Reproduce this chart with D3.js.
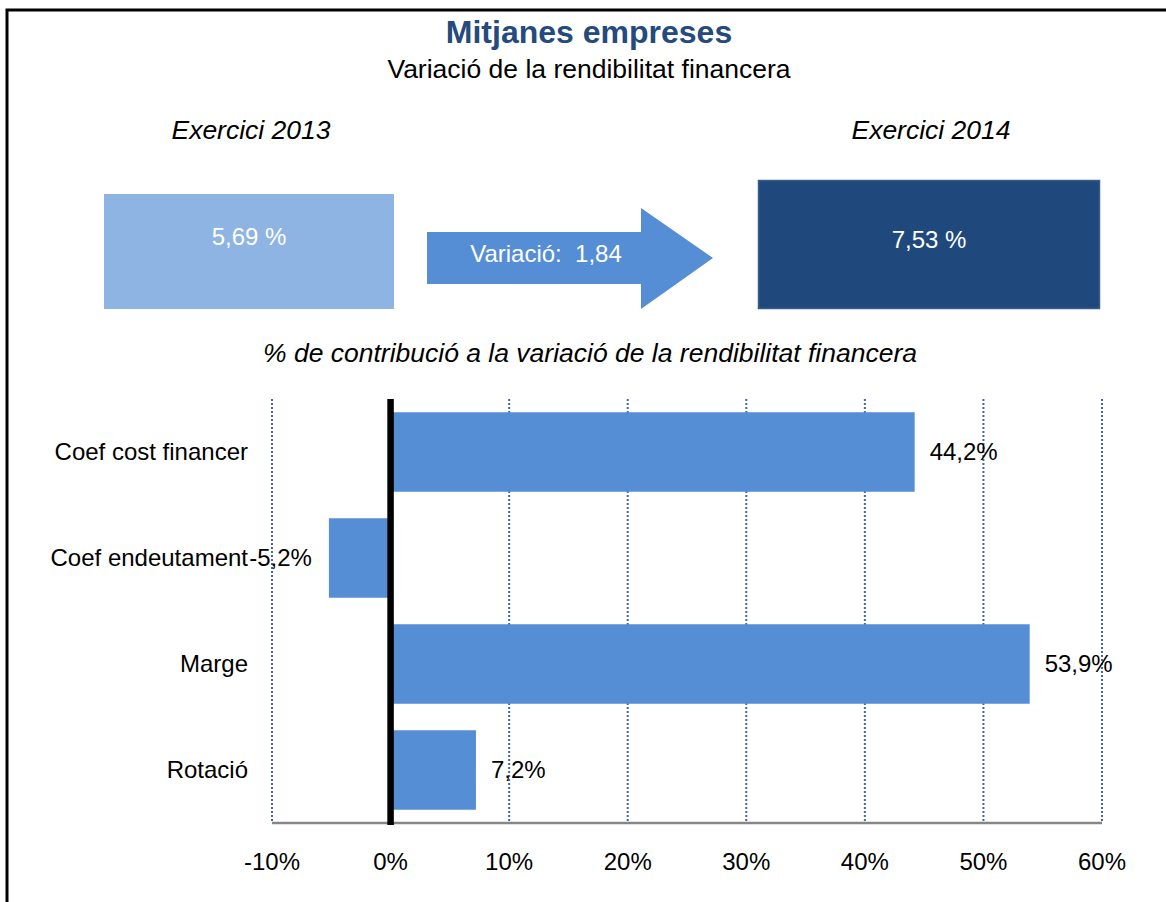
<!DOCTYPE html>
<html lang="ca">
<head>
    <meta charset="UTF-8">
    <title>Mitjanes empreses</title>
    <script src="https://cdnjs.cloudflare.com/ajax/libs/d3/7.9.0/d3.min.js"></script>
    <style>
        body {
            margin: 0;
            background: #fff;
            overflow: hidden;
            font-family: "Liberation Sans", Arial, sans-serif;
        }
        svg { display: block; }
        svg text { font-family: "Liberation Sans", Arial, sans-serif; }
        .title { fill: #244a7e; font-size: 32px; font-weight: bold; text-anchor: middle; }
        .subtitle { fill: #000; font-size: 26.5px; text-anchor: middle; }
        .year { fill: #000; font-size: 26.5px; font-style: italic; text-anchor: middle; }
        .box-label { fill: #fff; font-size: 24px; text-anchor: middle; }
        .cat-label { fill: #000; font-size: 24px; text-anchor: end; }
        .val-label { fill: #000; font-size: 24px; }
        .tick-label { fill: #000; font-size: 24px; text-anchor: middle; }
        .bar { fill: #558ed5; }
    </style>
</head>
<body>
<script>
    // top summary
    const years = ["Exercici 2013", "Exercici 2014"];
    const rendibilitat = [5.69, 7.53];
    const variacio = 1.84;

    // contribution chart
    const categories = ["Coef cost financer", "Coef endeutament", "Marge", "Rotació"];
    const contribucio = [44.2, -5.2, 53.9, 7.2];
    const tickValues = [-10, 0, 10, 20, 30, 40, 50, 60];

    const width = 1166, height = 902;
    const comma = v => v.toFixed(2).replace(".", ",");
    const comma1 = v => v.toFixed(1).replace(".", ",");

    const svg = d3.select("body").append("svg")
        .attr("width", width)
        .attr("height", height);

    // outer frame (only top/left edges visible)
    svg.append("rect")
        .attr("x", 7).attr("y", 10)
        .attr("width", width + 20).attr("height", height + 20)
        .attr("fill", "none")
        .attr("stroke", "#000")
        .attr("stroke-width", 3);

    svg.append("text").attr("class", "title")
        .attr("x", 589).attr("y", 43)
        .text("Mitjanes empreses");
    svg.append("text").attr("class", "subtitle")
        .attr("x", 589).attr("y", 78)
        .text("Variació de la rendibilitat financera");

    // year headers
    const yearX = [251, 931];
    svg.selectAll(".year").data(years).enter()
        .append("text").attr("class", "year")
        .attr("x", (d, i) => yearX[i]).attr("y", 139)
        .text(d => d);

    // 2013 box
    svg.append("rect")
        .attr("x", 104).attr("y", 194)
        .attr("width", 290).attr("height", 115)
        .attr("fill", "#8eb4e3");
    svg.append("text").attr("class", "box-label")
        .attr("x", 249).attr("y", 245)
        .text(comma(rendibilitat[0]) + " %");

    // 2014 box
    svg.append("rect")
        .attr("x", 758.5).attr("y", 180.5)
        .attr("width", 341).attr("height", 128)
        .attr("fill", "#1f497d")
        .attr("stroke", "#385d8a")
        .attr("stroke-width", 1.5);
    svg.append("text").attr("class", "box-label")
        .attr("x", 929).attr("y", 248)
        .text(comma(rendibilitat[1]) + " %");

    // arrow
    const arrow = d3.path();
    arrow.moveTo(427, 232);
    arrow.lineTo(641, 232);
    arrow.lineTo(641, 208);
    arrow.lineTo(713, 258);
    arrow.lineTo(641, 309);
    arrow.lineTo(641, 284);
    arrow.lineTo(427, 284);
    arrow.closePath();
    svg.append("path").attr("d", arrow.toString()).attr("fill", "#558ed5");
    svg.append("text").attr("class", "box-label")
        .attr("x", 546).attr("y", 262)
        .style("white-space", "pre")
        .text("Variació:  " + comma(variacio));

    svg.append("text").attr("class", "year")
        .attr("x", 590).attr("y", 362)
        .text("% de contribució a la variació de la rendibilitat financera");

    // bar chart
    const plotTop = 399, plotBottom = 823;
    const x = d3.scaleLinear().domain([-10, 60]).range([272, 1102]);
    const y = d3.scaleBand().domain(categories).range([plotTop, plotBottom])
        .paddingInner(0.25).paddingOuter(0.125);

    // dotted gridlines
    svg.append("g").selectAll("line")
        .data(tickValues.filter(t => t !== 0)).enter()
        .append("line")
        .attr("x1", d => x(d)).attr("x2", d => x(d))
        .attr("y1", plotTop).attr("y2", plotBottom)
        .attr("stroke", "#3f68a3")
        .attr("stroke-width", 2)
        .attr("stroke-dasharray", "2,2");

    // bars
    svg.append("g").selectAll("rect")
        .data(contribucio).enter()
        .append("rect")
        .attr("class", "bar")
        .attr("x", d => x(Math.min(0, d)))
        .attr("y", (d, i) => y(categories[i]))
        .attr("width", d => Math.abs(x(d) - x(0)))
        .attr("height", y.bandwidth());

    // x axis line
    svg.append("line")
        .attr("x1", x(-10)).attr("x2", x(60))
        .attr("y1", plotBottom).attr("y2", plotBottom)
        .attr("stroke", "#868686").attr("stroke-width", 2.5);

    // zero line
    svg.append("line")
        .attr("x1", x(0)).attr("x2", x(0))
        .attr("y1", plotTop).attr("y2", plotBottom + 2)
        .attr("stroke", "#000").attr("stroke-width", 6.5);

    // tick labels
    svg.append("g").selectAll("text")
        .data(tickValues).enter()
        .append("text").attr("class", "tick-label")
        .attr("x", d => x(d)).attr("y", 862)
        .attr("dy", ".35em")
        .text(d => d + "%");

    // category labels
    svg.append("g").selectAll("text")
        .data(categories).enter()
        .append("text").attr("class", "cat-label")
        .attr("x", 248)
        .attr("y", d => y(d) + y.bandwidth() / 2)
        .attr("dy", ".35em")
        .text(d => d);

    // value labels
    svg.append("g").selectAll("text")
        .data(contribucio).enter()
        .append("text").attr("class", "val-label")
        .attr("x", d => d >= 0 ? x(d) + 15 : x(d) - 17)
        .attr("y", (d, i) => y(categories[i]) + y.bandwidth() / 2)
        .attr("dy", ".35em")
        .attr("text-anchor", d => d >= 0 ? "start" : "end")
        .text(d => comma1(d) + "%");
</script>
</body>
</html>
